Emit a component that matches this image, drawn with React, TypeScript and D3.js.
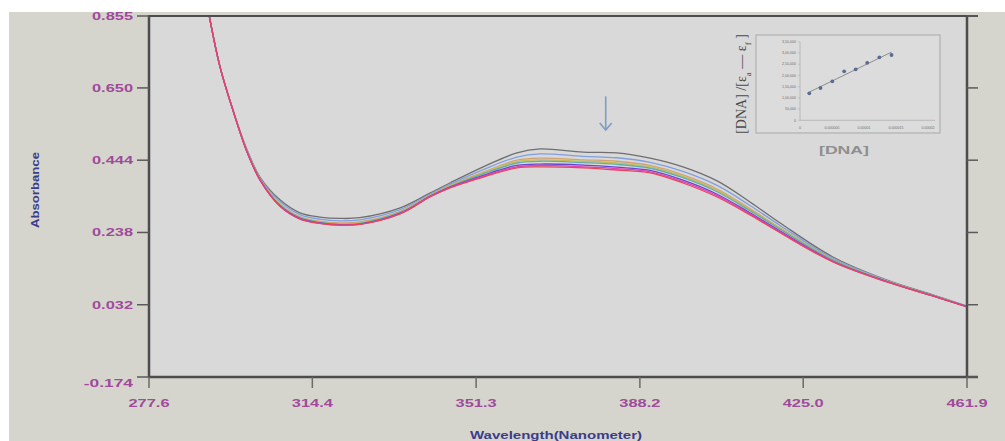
import React, { useEffect, useRef } from 'react';
import * as d3 from 'd3';

// wavelengths (nm) at which the spectra were read
const wavelengths = [291.1, 293.6, 296.5, 299.7, 302.6, 307.1, 311.6, 316.1, 320.6, 325.1, 334.2, 340.9, 345.4, 352.9, 360.5, 365.7, 375.4, 383.0, 390.5, 397.9, 405.6, 413.0, 419.8, 431.7, 443.9, 454.2, 461.9];

// absorbance spectra, top (free compound) to bottom (highest DNA)
const specGray = [0.860, 0.710, 0.587, 0.473, 0.396, 0.331, 0.294, 0.282, 0.278, 0.280, 0.308, 0.350, 0.379, 0.425, 0.465, 0.476, 0.467, 0.465, 0.450, 0.425, 0.385, 0.325, 0.265, 0.168, 0.102, 0.060, 0.028];
const specBlue = [0.860, 0.710, 0.587, 0.471, 0.394, 0.326, 0.289, 0.276, 0.271, 0.274, 0.303, 0.347, 0.375, 0.417, 0.453, 0.462, 0.455, 0.451, 0.438, 0.412, 0.372, 0.315, 0.258, 0.164, 0.101, 0.059, 0.028];
const specTan = [0.860, 0.710, 0.587, 0.469, 0.391, 0.320, 0.283, 0.270, 0.265, 0.268, 0.298, 0.344, 0.372, 0.410, 0.444, 0.450, 0.445, 0.441, 0.429, 0.402, 0.362, 0.306, 0.251, 0.161, 0.099, 0.058, 0.027];
const specOlive = [0.860, 0.710, 0.587, 0.468, 0.390, 0.317, 0.281, 0.268, 0.262, 0.265, 0.296, 0.343, 0.370, 0.408, 0.440, 0.445, 0.441, 0.436, 0.425, 0.398, 0.358, 0.303, 0.249, 0.160, 0.099, 0.058, 0.027];
const specTeal = [0.860, 0.710, 0.587, 0.468, 0.389, 0.316, 0.280, 0.267, 0.261, 0.264, 0.295, 0.342, 0.369, 0.405, 0.436, 0.441, 0.437, 0.432, 0.421, 0.394, 0.354, 0.300, 0.247, 0.159, 0.098, 0.058, 0.027];
const specViolet = [0.860, 0.710, 0.587, 0.467, 0.388, 0.314, 0.278, 0.265, 0.260, 0.262, 0.293, 0.341, 0.367, 0.401, 0.429, 0.433, 0.430, 0.424, 0.415, 0.387, 0.347, 0.294, 0.242, 0.156, 0.098, 0.057, 0.027];
const specMagenta = [0.860, 0.710, 0.587, 0.467, 0.388, 0.313, 0.277, 0.264, 0.259, 0.261, 0.292, 0.340, 0.366, 0.398, 0.425, 0.429, 0.425, 0.420, 0.411, 0.383, 0.343, 0.291, 0.239, 0.155, 0.097, 0.057, 0.026];
const specRed = [0.860, 0.710, 0.587, 0.467, 0.388, 0.313, 0.276, 0.264, 0.259, 0.261, 0.291, 0.339, 0.365, 0.396, 0.422, 0.425, 0.422, 0.416, 0.408, 0.379, 0.339, 0.288, 0.237, 0.154, 0.097, 0.057, 0.026];

const spectra = [
  { values: specGray, color: '#6f6f6f' },
  { values: specBlue, color: '#7f9fe0' },
  { values: specTan, color: '#d3a176' },
  { values: specOlive, color: '#c4bc55' },
  { values: specTeal, color: '#62aea6' },
  { values: specViolet, color: '#6a44d4' },
  { values: specMagenta, color: '#e042b4' },
  { values: specRed, color: '#e8445e' },
];

const yTicks = [-0.174, 0.032, 0.238, 0.444, 0.650, 0.855];
const xTicks = [277.6, 314.4, 351.3, 388.2, 425.0, 461.9];

// inset: [DNA] vs [DNA]/(εa - εf)
const insetDna = [1.45e-6, 3.2e-6, 5.05e-6, 6.9e-6, 8.7e-6, 10.5e-6, 12.4e-6, 14.3e-6];
const insetRatio = [120000, 143800, 173700, 218000, 227000, 256000, 280500, 290800];
const insetYTicks = [0, 50000, 100000, 150000, 200000, 250000, 300000, 350000];
const insetYLabels = ['0', '50,000', '1,00,000', '1,50,000', '2,00,000', '2,50,000', '3,00,000', '3,50,000'];
const insetXTicks = [0, 0.000005, 0.00001, 0.000015, 0.00002];
const insetXLabels = ['0', '0.000005', '0.00001', '0.000015', '0.00002'];

const W = 1005;
const H = 441;

const App = () => {
  const svgRef = useRef<SVGSVGElement>(null);

  useEffect(() => {
    const svg = d3.select(svgRef.current);
    svg.selectAll('*').remove();

    const plot = { left: 149, right: 967, top: 16, bottom: 377 };

    const x = d3.scaleLinear().domain([277.6, 461.9]).range([plot.left, plot.right]);
    const y = d3.scaleLinear().domain([-0.174, 0.855]).range([plot.bottom, plot.top]);

    // backgrounds
    svg.append('rect').attr('width', W).attr('height', H).attr('fill', '#ffffff');
    svg.append('rect').attr('x', 9).attr('y', 12).attr('width', W - 9).attr('height', H - 12).attr('fill', '#d5d5cd');
    svg.append('rect')
      .attr('x', plot.left).attr('y', plot.top)
      .attr('width', plot.right - plot.left).attr('height', plot.bottom - plot.top)
      .attr('fill', '#d9d9d9');

    const defs = svg.append('defs');
    defs.append('clipPath').attr('id', 'plot-clip')
      .append('rect')
      .attr('x', plot.left).attr('y', plot.top)
      .attr('width', plot.right - plot.left).attr('height', plot.bottom - plot.top);

    // spectra
    const line = d3.line<number>()
      .x((_, i) => x(wavelengths[i]))
      .y(d => y(d))
      .curve(d3.curveCatmullRom.alpha(0.5));

    const lines = svg.append('g').attr('clip-path', 'url(#plot-clip)');
    spectra.forEach(s => {
      lines.append('path')
        .datum(s.values)
        .attr('fill', 'none')
        .attr('stroke', s.color)
        .attr('stroke-width', 1.3)
        .attr('d', line);
    });

    // frame
    const frameColor = '#4d4d4d';
    svg.append('line').attr('x1', plot.left).attr('x2', 978).attr('y1', plot.top).attr('y2', plot.top)
      .attr('stroke', frameColor).attr('stroke-width', 2);
    svg.append('line').attr('x1', plot.left).attr('x2', 978).attr('y1', plot.bottom).attr('y2', plot.bottom)
      .attr('stroke', frameColor).attr('stroke-width', 2.5);
    svg.append('line').attr('x1', plot.left).attr('x2', plot.left).attr('y1', plot.top - 1).attr('y2', plot.bottom + 1)
      .attr('stroke', frameColor).attr('stroke-width', 2.5);
    svg.append('line').attr('x1', plot.right).attr('x2', plot.right).attr('y1', plot.top - 1).attr('y2', plot.bottom + 1)
      .attr('stroke', frameColor).attr('stroke-width', 2.5);

    const labelColor = '#a04a9c';

    // y ticks, both sides
    yTicks.forEach(t => {
      svg.append('line').attr('x1', 137).attr('x2', plot.left).attr('y1', y(t)).attr('y2', y(t))
        .attr('stroke', '#5a5a5a').attr('stroke-width', 1.5);
      svg.append('line').attr('x1', plot.right).attr('x2', 978).attr('y1', y(t)).attr('y2', y(t))
        .attr('stroke', '#5a5a5a').attr('stroke-width', 1.5);
      const label = t.toFixed(3);
      svg.append('text')
        .attr('x', 133).attr('y', y(t) + (t === yTicks[0] ? 10 : 4))
        .attr('text-anchor', 'end')
        .attr('textLength', label.length * 8.2)
        .attr('lengthAdjust', 'spacingAndGlyphs')
        .style('font-family', '"Liberation Sans", Arial, sans-serif')
        .style('font-weight', 'bold')
        .style('font-size', '10px')
        .style('fill', labelColor)
        .text(label);
    });

    // x ticks
    xTicks.forEach(t => {
      svg.append('line').attr('x1', x(t)).attr('x2', x(t)).attr('y1', plot.bottom).attr('y2', 388)
        .attr('stroke', '#6a6a6a').attr('stroke-width', 1.5);
      const label = t.toFixed(1);
      svg.append('text')
        .attr('x', x(t)).attr('y', 407)
        .attr('text-anchor', 'middle')
        .attr('textLength', label.length * 8.2)
        .attr('lengthAdjust', 'spacingAndGlyphs')
        .style('font-family', '"Liberation Sans", Arial, sans-serif')
        .style('font-weight', 'bold')
        .style('font-size', '10px')
        .style('fill', labelColor)
        .text(label);
    });

    // axis titles
    svg.append('text')
      .attr('transform', `translate(39, 190) rotate(-90)`)
      .attr('text-anchor', 'middle')
      .attr('textLength', 76)
      .attr('lengthAdjust', 'spacingAndGlyphs')
      .style('font-family', '"Liberation Sans", Arial, sans-serif')
      .style('font-weight', 'bold')
      .style('font-size', '10px')
      .style('fill', '#3c3c8c')
      .text('Absorbance');

    svg.append('text')
      .attr('x', 556).attr('y', 439)
      .attr('text-anchor', 'middle')
      .attr('textLength', 172)
      .attr('lengthAdjust', 'spacingAndGlyphs')
      .style('font-family', '"Liberation Sans", Arial, sans-serif')
      .style('font-weight', 'bold')
      .style('font-size', '10px')
      .style('fill', '#3c3c8c')
      .text('Wavelength(Nanometer)');

    // arrow showing hypochromism
    const ax = x(380.5);
    const ay0 = y(0.626);
    const ay1 = y(0.530);
    svg.append('line').attr('x1', ax).attr('x2', ax).attr('y1', ay0).attr('y2', ay1)
      .attr('stroke', '#7d9dc4').attr('stroke-width', 1.6);
    svg.append('path')
      .attr('d', `M${ax - 6},${ay1 - 7} L${ax},${ay1} L${ax + 6},${ay1 - 7}`)
      .attr('fill', 'none').attr('stroke', '#7d9dc4').attr('stroke-width', 1.6);

    // inset plot
    const box = { left: 756, top: 35, right: 940, bottom: 133 };
    svg.append('rect')
      .attr('x', box.left).attr('y', box.top)
      .attr('width', box.right - box.left).attr('height', box.bottom - box.top)
      .attr('fill', '#dcdcdc').attr('stroke', '#b9b9b9').attr('stroke-width', 1.5);

    const ix = d3.scaleLinear().domain([0, 0.00002]).range([800, 928]);
    const iy = d3.scaleLinear().domain([0, 350000]).range([120.3, 41.7]);

    const inset = svg.append('g');
    inset.append('line').attr('x1', ix(0)).attr('x2', ix(0)).attr('y1', iy(350000)).attr('y2', iy(0))
      .attr('stroke', '#b0b0b0').attr('stroke-width', 0.8);
    inset.append('line').attr('x1', ix(0)).attr('x2', 935).attr('y1', iy(0)).attr('y2', iy(0))
      .attr('stroke', '#b0b0b0').attr('stroke-width', 0.8);

    insetYTicks.forEach((t, i) => {
      inset.append('line').attr('x1', ix(0) - 2).attr('x2', ix(0)).attr('y1', iy(t)).attr('y2', iy(t))
        .attr('stroke', '#b0b0b0').attr('stroke-width', 0.6);
      inset.append('text')
        .attr('x', ix(0) - 4).attr('y', iy(t) + 1.3)
        .attr('text-anchor', 'end')
        .style('font-family', '"Liberation Sans", Arial, sans-serif')
        .style('font-size', '3.6px')
        .style('fill', '#6e6e6e')
        .text(insetYLabels[i]);
    });
    insetXTicks.forEach((t, i) => {
      inset.append('text')
        .attr('x', ix(t)).attr('y', 128.5)
        .attr('text-anchor', 'middle')
        .style('font-family', '"Liberation Sans", Arial, sans-serif')
        .style('font-size', '3.6px')
        .style('fill', '#6e6e6e')
        .text(insetXLabels[i]);
    });

    // least squares trend line through the inset points
    const mx = d3.mean(insetDna) as number;
    const my = d3.mean(insetRatio) as number;
    const slope = d3.sum(insetDna, (d, i) => (d - mx) * (insetRatio[i] - my)) /
      d3.sum(insetDna, d => (d - mx) * (d - mx));
    const icpt = my - slope * mx;
    const x0 = insetDna[0];
    const x1 = insetDna[insetDna.length - 1];
    inset.append('line')
      .attr('x1', ix(x0)).attr('y1', iy(icpt + slope * x0))
      .attr('x2', ix(x1)).attr('y2', iy(icpt + slope * x1))
      .attr('stroke', '#7a7a7a').attr('stroke-width', 0.8);

    inset.selectAll('.pt')
      .data(insetDna)
      .enter().append('circle')
      .attr('class', 'pt')
      .attr('cx', d => ix(d))
      .attr('cy', (_, i) => iy(insetRatio[i]))
      .attr('r', 1.9)
      .attr('fill', '#5b6b92');

    // inset titles
    const yTitle = svg.append('text')
      .attr('transform', `translate(746, 84) rotate(-90)`)
      .attr('text-anchor', 'middle')
      .style('font-family', '"Liberation Serif", "Times New Roman", serif')
      .style('font-size', '14px')
      .style('fill', '#4a4a4a');
    yTitle.append('tspan').text('[DNA] /[ε');
    yTitle.append('tspan').attr('baseline-shift', 'sub').style('font-size', '9px').text('a');
    yTitle.append('tspan').text(' — ε');
    yTitle.append('tspan').attr('baseline-shift', 'sub').style('font-size', '9px').text('f');
    yTitle.append('tspan').text(' ]');

    svg.append('text')
      .attr('x', 844).attr('y', 154)
      .attr('text-anchor', 'middle')
      .attr('textLength', 50)
      .attr('lengthAdjust', 'spacingAndGlyphs')
      .style('font-family', '"Liberation Sans", Arial, sans-serif')
      .style('font-weight', 'bold')
      .style('font-size', '11px')
      .style('fill', '#8e8e8e')
      .text('[DNA]');
  }, []);

  return (
    <svg
      ref={svgRef}
      width={W}
      height={H}
      style={{ position: 'absolute', left: 0, top: 0, display: 'block' }}
    />
  );
};

export default App;
